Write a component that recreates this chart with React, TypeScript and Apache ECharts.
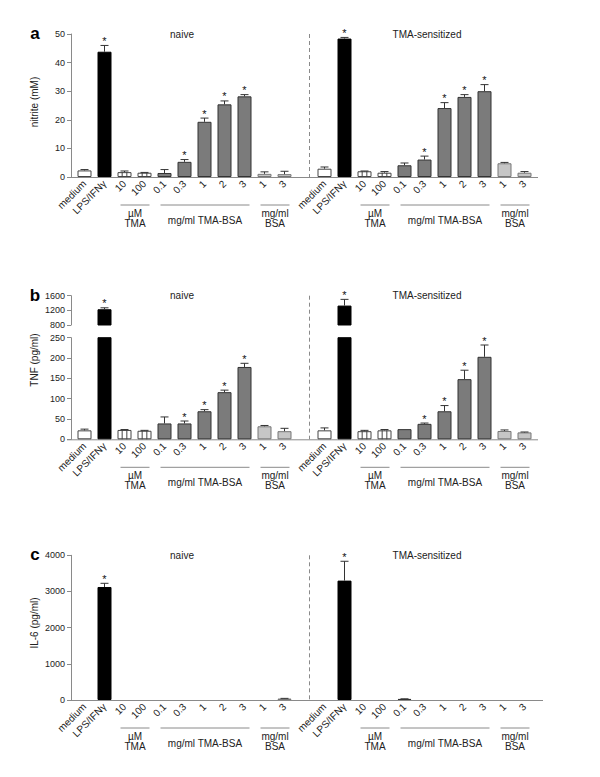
import React, { useEffect, useRef } from "react";
import * as echarts from "echarts";

// ---------- data ----------
const groupCats = ["medium", "LPS/IFNγ", "10", "100", "0.1", "0.3", "1", "2", "3", "1", "3"];
const barKinds = ["open", "black", "hatch", "hatch", "tma", "tma", "tma", "tma", "tma", "bsa", "bsa"];
const halves = ["naive", "TMA-sensitized"];

const nitriteNaive = [2.3, 43.8, 1.7, 1.5, 1.4, 5.3, 19.3, 25.4, 28.2, 1.1, 1.0];
const nitriteNaiveErr = [0.3, 2.2, 0.4, 0.1, 1.2, 0.8, 1.3, 1.2, 0.6, 0.7, 1.0];
const nitriteNaiveSig = [0, 1, 0, 0, 0, 1, 1, 1, 1, 0, 0];
const nitriteSens = [2.9, 48.4, 2.0, 1.5, 4.1, 6.1, 24.1, 28.0, 30.0, 4.8, 1.5];
const nitriteSensErr = [0.6, 0.4, 0.1, 0.4, 0.8, 1.2, 1.9, 0.8, 2.3, 0.3, 0.4];
const nitriteSensSig = [0, 1, 0, 0, 0, 1, 1, 1, 1, 0, 0];

const tnfNaive = [22, 1230, 23, 21, 39, 39, 69, 116, 178, 32, 20];
const tnfNaiveErr = [3, 40, 1, 1, 16, 6, 4, 5, 9, 2, 7];
const tnfNaiveSig = [0, 1, 0, 0, 0, 1, 1, 1, 1, 0, 0];
const tnfSens = [22, 1330, 20, 22, 25, 38, 69, 148, 203, 20.5, 17];
const tnfSensErr = [6, 170, 2, 2, 0, 2, 14, 22, 29, 2.5, 1];
const tnfSensSig = [0, 1, 0, 0, 0, 1, 1, 1, 1, 0, 0];

const il6Naive = [0, 3124, 0, 0, 0, 0, 0, 0, 0, 0, 40];
const il6NaiveErr = [0, 102, 0, 0, 0, 0, 0, 0, 0, 0, 5];
const il6NaiveSig = [0, 1, 0, 0, 0, 0, 0, 0, 0, 0, 0];
const il6Sens = [0, 3300, 0, 0, 30, 0, 0, 0, 0, 0, 0];
const il6SensErr = [0, 535, 0, 0, 3, 0, 0, 0, 0, 0, 0];
const il6SensSig = [0, 1, 0, 0, 0, 0, 0, 0, 0, 0, 0];

const nitriteTicks = { min: 0, max: 50, interval: 10 };
const tnfLowTicks = { min: 0, max: 250, interval: 50 };
const tnfHighTicks = { min: 800, max: 1600, interval: 400 };
const il6Ticks = { min: 0, max: 4000, interval: 1000 };

const subGroups = [
  { label: "µM\nTMA", from: 2, to: 3 },
  { label: "mg/ml TMA-BSA", from: 4, to: 8 },
  { label: "mg/ml\nBSA", from: 9, to: 10 },
];

// ---------- layout ----------
const GL = 74.5;
const BAND = 20;
const NCAT = groupCats.length * 2 + 1;
const GW = BAND * NCAT;
const BARW = 14;
const FONT = "'Liberation Sans', Arial, Helvetica, sans-serif";
const AXIS_COLOR = "#8a8a8a";
const TEXT_COLOR = "#222";

const categories = [...groupCats, "", ...groupCats];
const kinds = [...barKinds, "none", ...barKinds];
const join = (a: number[], b: number[]) => [...a, NaN, ...b];

const styleFor = (k: string) => {
  switch (k) {
    case "black":
      return { color: "#000", borderColor: "#000", borderWidth: 1 };
    case "tma":
      return { color: "#7b7b7b", borderColor: "#333", borderWidth: 1 };
    case "bsa":
      return { color: "#c6c6c6", borderColor: "#777", borderWidth: 1 };
    default:
      return { color: "#fff", borderColor: "#444", borderWidth: 1 };
  }
};

const catX = (i: number) => GL + (i + 0.5) * BAND;

function App() {
  const ref = useRef<HTMLDivElement>(null);
  useEffect(() => {
    document.body.style.margin = "0";
    if (!ref.current) return;
    const chart = echarts.init(ref.current, null, { renderer: "svg" });

    const panels = [
      { top: 34, height: 143 },
      { top: 337.7, height: 101.6 },
      { top: 295.7, height: 29.3 },
      { top: 555.3, height: 144.7 },
    ];

    const grids = panels.map((p) => ({
      left: GL,
      width: GW,
      top: p.top,
      height: p.height,
      containLabel: false,
      outerBoundsMode: "none",
    }));

    const xAxes = panels.map((_, gi) => ({
      type: "category",
      gridIndex: gi,
      data: categories,
      axisLine: { show: false },
      axisTick: { show: false },
      axisLabel: {
        show: gi !== 2,
        rotate: 45,
        interval: 0,
        fontSize: 10,
        margin: 5,
        color: TEXT_COLOR,
        fontFamily: FONT,
      },
    }));

    const ranges = [nitriteTicks, tnfLowTicks, tnfHighTicks, il6Ticks];
    const yAxes = ranges.map((r, gi) => ({
      type: "value",
      gridIndex: gi,
      min: r.min,
      max: r.max,
      interval: r.interval,
      offset: 3.5,
      axisLine: { show: true, lineStyle: { color: AXIS_COLOR, width: 1 } },
      axisTick: { show: true, length: 4, lineStyle: { color: AXIS_COLOR } },
      axisLabel: {
        fontSize: 9,
        margin: 6,
        color: TEXT_COLOR,
        fontFamily: FONT,
        formatter: (v: number) => String(v),
      },
      splitLine: { show: false },
    }));

    const series: any[] = [];

    const addPanel = (
      gi: number,
      vals: number[],
      errs: number[],
      sigs: number[],
      keep: (v: number) => boolean
    ) => {
      series.push({
        type: "bar",
        xAxisIndex: gi,
        yAxisIndex: gi,
        barWidth: BARW,
        clip: true,
        data: vals.map((v, i) =>
          isNaN(v) || v === 0 || (gi === 2 && !keep(v))
            ? "-"
            : { value: v, itemStyle: styleFor(kinds[i]) }
        ),
        z: 2,
      });
      // hatch lines
      series.push({
        type: "custom",
        xAxisIndex: gi,
        yAxisIndex: gi,
        z: 3,
        data: vals
          .map((v, i) => [i, v])
          .filter((d, i) => kinds[i] === "hatch" && !isNaN(d[1]) && d[1] > 0 && keep(d[1])),
        renderItem: (params: any, api: any) => {
          const x = api.value(0);
          const v = api.value(1);
          const top = api.coord([x, v]);
          const base = api.coord([x, ranges[gi].min]);
          const children = [-1, 1].map((s) => ({
            type: "line",
            shape: {
              x1: top[0] + (s * BARW) / 6,
              y1: top[1],
              x2: top[0] + (s * BARW) / 6,
              y2: base[1],
            },
            style: { stroke: "#444", lineWidth: 1 },
          }));
          return { type: "group", children };
        },
      });
      // error bars + significance
      series.push({
        type: "custom",
        xAxisIndex: gi,
        yAxisIndex: gi,
        z: 4,
        clip: false,
        data: vals
          .map((v, i) => [i, v, errs[i], sigs[i]])
          .filter((d) => !isNaN(d[1]) && keep(d[1])),
        renderItem: (params: any, api: any) => {
          const x = api.value(0);
          const v = api.value(1);
          const e = api.value(2);
          const s = api.value(3);
          const top = api.coord([x, v]);
          const et = api.coord([x, v + e]);
          const children: any[] = [];
          if (e > 0) {
            children.push({
              type: "line",
              shape: { x1: top[0], y1: top[1], x2: et[0], y2: et[1] },
              style: { stroke: "#333", lineWidth: 1 },
            });
            children.push({
              type: "line",
              shape: { x1: et[0] - 4, y1: et[1], x2: et[0] + 4, y2: et[1] },
              style: { stroke: "#333", lineWidth: 1 },
            });
          }
          if (s) {
            children.push({
              type: "text",
              x: et[0],
              y: et[1] - 4.5,
              style: {
                text: "*",
                fontSize: 11,
                fontFamily: FONT,
                fill: "#111",
                align: "center",
                verticalAlign: "middle",
              },
            });
          }
          return { type: "group", children };
        },
      });
    };

    const all = () => true;
    addPanel(
      0,
      join(nitriteNaive, nitriteSens),
      join(nitriteNaiveErr, nitriteSensErr),
      join(nitriteNaiveSig, nitriteSensSig),
      all
    );
    addPanel(
      1,
      join(tnfNaive, tnfSens),
      join(tnfNaiveErr, tnfSensErr),
      join(tnfNaiveSig, tnfSensSig),
      (v) => v <= tnfLowTicks.max
    );
    addPanel(
      2,
      join(tnfNaive, tnfSens),
      join(tnfNaiveErr, tnfSensErr),
      join(tnfNaiveSig, tnfSensSig),
      (v) => v > tnfHighTicks.min
    );
    addPanel(
      3,
      join(il6Naive, il6Sens),
      join(il6NaiveErr, il6SensErr),
      join(il6NaiveSig, il6SensSig),
      all
    );

    // ---------- annotations ----------
    const graphic: any[] = [];
    const txt = (x: number, y: number, text: string, extra: any = {}) => ({
      type: "text",
      x,
      y,
      silent: true,
      style: {
        text,
        fontSize: 10,
        fontFamily: FONT,
        fill: TEXT_COLOR,
        align: "center",
        verticalAlign: "middle",
        ...extra.style,
      },
      ...(extra.rotation ? { rotation: extra.rotation } : {}),
    });
    const line = (x1: number, y1: number, x2: number, y2: number, dash?: number[]) => ({
      type: "line",
      silent: true,
      shape: { x1, y1, x2, y2 },
      style: { stroke: AXIS_COLOR, lineWidth: 1, lineDash: dash },
    });

    const panelDefs = [
      { letter: "a", yTitle: "nitrite (mM)", top: 34, base: 34 + 143, titleY: 102, rightEnd: 538 },
      { letter: "b", yTitle: "TNF (pg/ml)", top: 295.7, base: 337.7 + 101.6, titleY: 360, rightEnd: 538 },
      { letter: "c", yTitle: "IL-6 (pg/ml)", top: 555.3, base: 555.3 + 144.7, titleY: 623, rightEnd: 543 },
    ];
    const sepX = GL + (groupCats.length + 0.75) * BAND;

    panelDefs.forEach((p) => {
      graphic.push(
        txt(35, p.top - 0.5, p.letter, { style: { fontSize: 17, fontWeight: "bold", fill: "#000" } })
      );
      graphic.push(txt(34, p.titleY, p.yTitle, { rotation: Math.PI / 2 }));
      graphic.push(line(67, p.base + 0.5, p.rightEnd, p.base + 0.5));
      graphic.push(line(sepX, p.top, sepX, p.base, [4, 3]));
      halves.forEach((h, hi) => {
        const off = hi * (groupCats.length + 1);
        const cx = hi === 0 ? 182 : 427;
        graphic.push(txt(cx, p.top, h));
        subGroups.forEach((g) => {
          const x1 = catX(g.from + off) - 4;
          const x2 = catX(g.to + off) + 5;
          graphic.push(line(x1, p.base + 28, x2, p.base + 28));
          const multi = g.label.includes("\n");
          graphic.push(
            txt((x1 + x2) / 2, p.base + (multi ? 41 : 43), g.label, {
              style: { lineHeight: 10 },
            })
          );
        });
      });
    });

    chart.setOption({
      animation: false,
      textStyle: { fontFamily: FONT },
      grid: grids,
      xAxis: xAxes,
      yAxis: yAxes,
      series,
      graphic,
    });
    return () => chart.dispose();
  }, []);
  return <div ref={ref} style={{ width: 600, height: 777, background: "#fff" }} />;
}

export default App;
